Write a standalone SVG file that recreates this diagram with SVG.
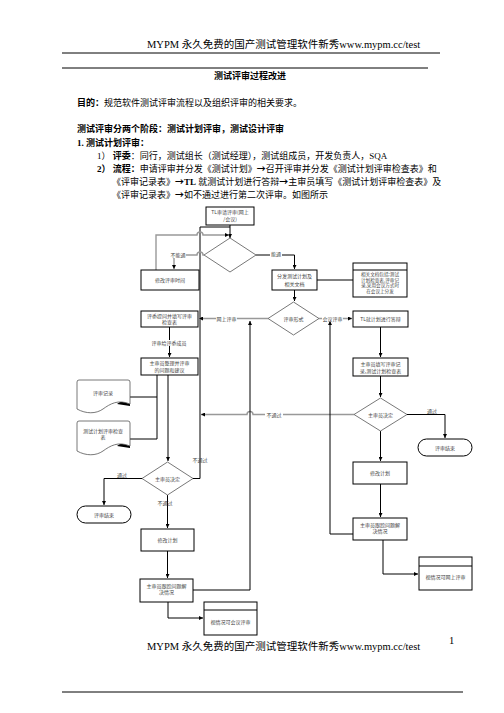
<svg xmlns="http://www.w3.org/2000/svg" width="504" height="713" viewBox="0 0 504 713">
<defs>
<style>
.hd{font-family:"Liberation Serif","Noto Sans CJK SC",serif;font-size:10.5px;fill:#000}
.bd{font-family:"Liberation Serif","Noto Sans CJK SC",serif;font-size:9px;fill:#000}
.cj{font-family:"Noto Sans CJK SC",sans-serif}
.b{font-weight:bold}
.t{font-family:"Noto Sans CJK SC",sans-serif;font-size:5px;fill:#444;text-anchor:middle}
.ts{font-size:4.6px}
.box{fill:#fff;stroke:#000;stroke-width:1}
.dia{fill:#fff;stroke:#555;stroke-width:0.8}
.ln{fill:none;stroke:#000;stroke-width:1}
.gl{fill:none;stroke:#999;stroke-width:1.4}
.bg{fill:#fff}
</style>
<marker id="a" viewBox="0 0 6 6" refX="6" refY="3" markerWidth="4" markerHeight="4" orient="auto" markerUnits="userSpaceOnUse"><path d="M0,0 L6,3 L0,6 Z" fill="#000"/></marker>
</defs>
<rect width="504" height="713" fill="#fff"/>

<g id="header">
<text class="hd" x="147" y="48">MYPM 永久免费的国产测试管理软件新秀www.mypm.cc/test</text>
<line x1="62" y1="53" x2="440" y2="53" stroke="#000" stroke-width="1"/>
<line x1="62" y1="68" x2="428" y2="68" stroke="#000" stroke-width="1"/>
<text class="bd b" x="250" y="79" text-anchor="middle">测试评审过程改进</text>
</g>

<g id="body">
<text class="bd" x="77" y="106"><tspan class="b">目的：</tspan>规范软件测试评审流程以及组织评审的相关要求。</text>
<text class="bd b" x="77" y="132">测试评审分两个阶段：测试计划评审，测试设计评审</text>
<text class="bd b" x="77" y="146">1.  测试计划评审：</text>
<text class="bd" x="97" y="159">1） <tspan class="b">评委</tspan>：同行，测试组长（测试经理），测试组成员，开发负责人，SQA</text>
<text class="bd" x="97" y="172"><tspan class="b">2） 流程：</tspan>申请评审并分发《测试计划》<tspan class="cj b">→</tspan>召开评审并分发《测试计划评审检查表》和</text>
<text class="bd" x="112" y="185">《评审记录表》<tspan class="cj b">→</tspan><tspan class="b">TL</tspan> 就测试计划进行答辩<tspan class="cj b">→</tspan>主审员填写《测试计划评审检查表》及</text>
<text class="bd" x="112" y="198">《评审记录表》<tspan class="cj b">→</tspan>如不通过进行第二次评审。如图所示</text>
</g>

<g id="connectors">
<path class="ln" d="M230,225 V238" marker-end="url(#a)"/>
<path class="ln" d="M193,478.5 H200 V227 H230"/>
<path class="gl" d="M156,270 V235 H197 a3,3 0 0 1 6,0 H229" marker-end="url(#a)"/>
<path class="gl" d="M204,255 H203 a3,3 0 0 0 -6,0 H174 V269" marker-end="url(#a)"/>
<path class="ln" d="M256,255 H294.5 V269" marker-end="url(#a)"/>
<path class="ln" d="M317,280 H353"/>
<path class="ln" d="M294.5,290 V301" marker-end="url(#a)"/>
<path class="gl" d="M268,318.5 H199" marker-end="url(#a)"/>
<path class="gl" d="M319,318.5 H352" marker-end="url(#a)"/>
<path class="ln" d="M169.5,327 V357" marker-end="url(#a)"/>
<path class="ln" d="M380.5,327 V357" marker-end="url(#a)"/>
<path class="ln" d="M380.5,376 V397" marker-end="url(#a)"/>
<path class="ln" d="M157,375 V439 H130 M157,397 H130"/>
<polygon points="130,395 117,404 130,406" fill="#000"/>
<polygon points="130,437 117,446 130,448" fill="#000"/>
<path class="ln" d="M168,375 V461" marker-end="url(#a)"/>
<path class="gl" d="M354,414.5 H253 a3,3 0 0 0 -6,0 H201" marker-end="url(#a)"/>
<path class="ln" d="M407,414.5 H445 V438" marker-end="url(#a)"/>
<path class="ln" d="M380.5,431 V461" marker-end="url(#a)"/>
<path class="ln" d="M380.5,484 V517" marker-end="url(#a)"/>
<path class="ln" d="M353,534 H330 V321" marker-end="url(#a)"/>
<path class="ln" d="M383,540 V574 H418" marker-end="url(#a)"/>
<path class="ln" d="M142,478.5 H104 V505" marker-end="url(#a)"/>
<path class="ln" d="M167.5,495 V528" marker-end="url(#a)"/>
<path class="ln" d="M167.5,551 V578" marker-end="url(#a)"/>
<path class="ln" d="M193,590 H250 V321" marker-end="url(#a)"/>
<path class="ln" d="M168,602 V618 H203" marker-end="url(#a)"/>
<rect class="bg" x="170" y="252" width="16" height="6"/>
<text class="t" x="178" y="257">不能通</text>
<rect class="bg" x="270" y="251" width="12" height="6"/>
<text class="t" x="276" y="256">能通</text>
<rect class="bg" x="216" y="315.5" width="21" height="6"/>
<text class="t" x="226.5" y="320.5">网上评审</text>
<rect class="bg" x="322" y="315.5" width="21" height="6"/>
<text class="t" x="332.5" y="320.5">会议评审</text>
<rect class="bg" x="150" y="340" width="38" height="6"/>
<text class="t" x="169" y="345">评审给评委成员</text>
<rect class="bg" x="265" y="411.5" width="18" height="6"/>
<text class="t" x="274" y="416.5">不通过</text>
<text class="t" x="432" y="413">通过</text>
<text class="t" x="200" y="462">不通过</text>
<text class="t" x="122" y="477">通过</text>
<text class="t" x="165" y="505">不通过</text>
</g>

<g id="n_apply"><rect class="box" x="206" y="207" width="48" height="18"/><text class="t" x="230" y="214">TL审请评审(网上</text><text class="t" x="230" y="221">/会议)</text></g>
<g id="d_meet"><polygon class="dia" points="230,238 256,255 230,272 204,255"/></g>
<g id="n_modtime"><rect class="box" x="141" y="270" width="58" height="20"/><text class="t" x="170" y="282">修改评审时间</text></g>
<g id="n_distribute"><rect class="box" x="272" y="270" width="45" height="20"/><text class="t" x="294.5" y="278">分发测试计划及</text><text class="t" x="294.5" y="286">相关文档</text></g>
<g id="n_docs"><rect class="box" x="353" y="263" width="54" height="34"/><line x1="353" y1="270" x2="407" y2="270" stroke="#000"/><text class="t ts" x="380" y="276">相关文档包括:测试</text><text class="t ts" x="380" y="281.7">计划检查表,评审记</text><text class="t ts" x="380" y="287.4">录,采用会议方式时</text><text class="t ts" x="380" y="293.1">在会议上分发</text></g>
<g id="n_review"><rect class="box" x="141" y="311" width="57" height="16"/><text class="t" x="169.5" y="318">评委提问并填写评审</text><text class="t" x="169.5" y="324">检查表</text></g>
<g id="d_form"><polygon class="dia" points="293.5,302 319,318.5 293.5,335 268,318.5"/><text class="t" x="293.5" y="320.5">评审形式</text></g>
<g id="n_tl"><rect class="box" x="353" y="311" width="55" height="16"/><text class="t" x="380.5" y="321">TL就计划进行答辩</text></g>
<g id="n_sort"><rect class="box" x="141" y="358" width="57" height="17"/><text class="t" x="169.5" y="365">主审员整理并评审</text><text class="t" x="169.5" y="372">的问题和建议</text></g>
<g id="n_fill"><rect class="box" x="353" y="358" width="55" height="18"/><text class="t" x="380.5" y="366">主审员填写评审记</text><text class="t" x="380.5" y="373">录,测试计划检查表</text></g>
<g id="doc_record"><path d="M77,382 Q77,380 79,380 H128 Q130,380 130,382 V404 C118,399 110,404 103,409 C96,414 86,414 77,409 Z" fill="#fff" stroke="#555" stroke-width="0.8"/><text class="t" x="103" y="395">评审记录</text></g>
<g id="doc_check"><path d="M77,423 Q77,421 79,421 H128 Q130,421 130,423 V446 C118,441 110,446 103,451 C96,456 86,456 77,451 Z" fill="#fff" stroke="#555" stroke-width="0.8"/><text class="t" x="103" y="433">测试计划评审检查</text><text class="t" x="103" y="439">表</text></g>
<g id="d_dec_right"><polygon class="dia" points="380.5,398 407,414.5 380.5,431 354,414.5"/><text class="t" x="380.5" y="416.5">主审员决定</text></g>
<g id="end_right"><rect class="box" x="418" y="439" width="54" height="17" rx="8.5" stroke="#555" stroke-width="0.8"/><text class="t" x="445" y="449.5">评审结束</text></g>
<g id="n_mod_right"><rect class="box" x="353" y="462" width="54" height="22"/><text class="t" x="380" y="474.5">修改计划</text></g>
<g id="n_track_right"><rect class="box" x="353" y="518" width="54" height="22"/><text class="t" x="380" y="527">主审员跟踪问题解</text><text class="t" x="380" y="533">决情况</text></g>
<g id="n_online"><rect class="box" x="419" y="557" width="53" height="33"/><line x1="419" y1="566" x2="472" y2="566" stroke="#000"/><text class="t" x="445.5" y="579">视情况可网上评审</text></g>
<g id="d_dec_left"><polygon class="dia" points="167.5,462 193,478.5 167.5,495 142,478.5"/><text class="t" x="167.5" y="480.5">主审员决定</text></g>
<g id="end_left"><rect class="box" x="77" y="506" width="54" height="17" rx="8.5" stroke="#555" stroke-width="0.8"/><text class="t" x="104" y="516.5">评审结束</text></g>
<g id="n_mod_left"><rect class="box" x="141" y="529" width="53" height="22"/><text class="t" x="167.5" y="541.5">修改计划</text></g>
<g id="n_track_left"><rect class="box" x="140" y="579" width="53" height="23"/><text class="t" x="166.5" y="588">主审员跟踪问题解</text><text class="t" x="166.5" y="594">决情况</text></g>
<g id="n_meeting"><rect class="box" x="204" y="602" width="53" height="33"/><line x1="204" y1="610" x2="257" y2="610" stroke="#000"/><text class="t" x="230.5" y="624">视情况可会议评审</text></g>

<g id="footer">
<text class="hd" x="147" y="650">MYPM 永久免费的国产测试管理软件新秀www.mypm.cc/test</text>
<text class="hd" x="449" y="644" font-size="7">1</text>
<line x1="62" y1="692" x2="463" y2="692" stroke="#000" stroke-width="1"/>
</g>
</svg>
